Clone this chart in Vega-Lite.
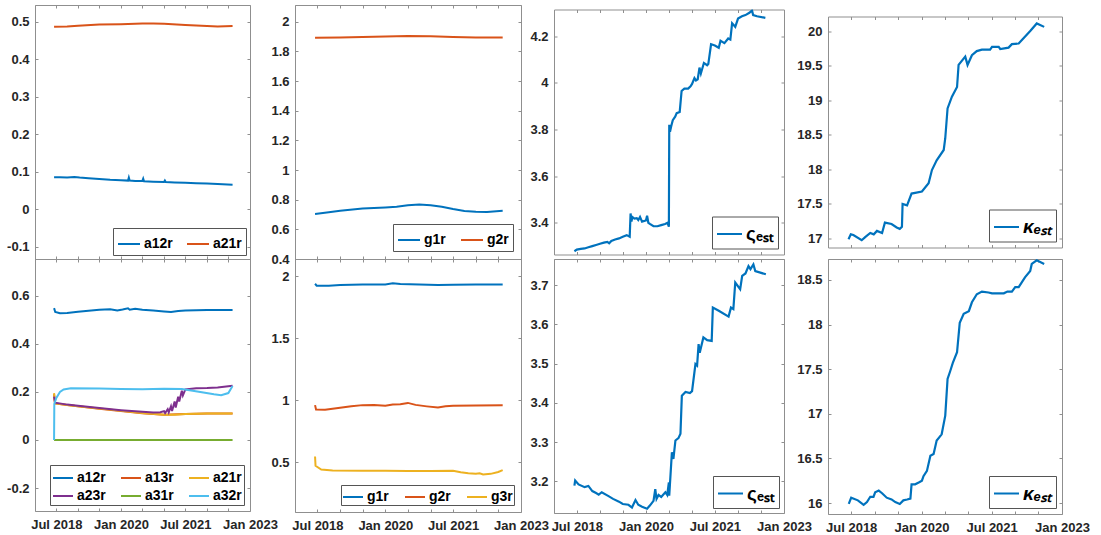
{
"$schema": "https://vega.github.io/schema/vega-lite/v6.json",
"padding": {"left": 6, "top": 4, "right": 5, "bottom": 0},
"background": "white",
"config": {
  "locale": {"number": {"decimal": ".", "thousands": ",", "grouping": [3], "currency": ["$", ""], "minus": "-"}},
  "view": {"stroke": "#8f8f8f", "strokeWidth": 1},
  "axis": {"domain": false, "grid": false, "tickSize": -3, "tickColor": "#8f8f8f", "labelFont": "Liberation Sans", "labelFontSize": 13, "labelFontWeight": "bold", "labelColor": "#262626", "labelPadding": 9, "labelOverlap": false, "labelFlush": false, "labelBound": false},
  "axisX": {"labelPadding": 10.5, "labelExpr": "(utcyear(datum.value)*12 + utcmonth(datum.value) - 24222) % 18 == 0 ? utcFormat(datum.value, '%b %Y') : ''"},
  "legend": {"labelFont": "Liberation Sans", "labelFontWeight": "bold", "labelColor": "#000000", "strokeColor": "#555555", "fillColor": "white", "symbolType": "stroke", "symbolStrokeWidth": 2, "labelFontSize": 14, "labelOffset": 3}
},
"datasets": {
"p1": [
{"t":"2018-06-12","s":"a12r","v":0.085},{"t":"2018-08-01","s":"a12r","v":0.085},{"t":"2018-10-01","s":"a12r","v":0.084},{"t":"2018-12-01","s":"a12r","v":0.0855},{"t":"2019-01-15","s":"a12r","v":0.084},{"t":"2019-04-01","s":"a12r","v":0.082},{"t":"2019-07-01","s":"a12r","v":0.080},{"t":"2019-10-01","s":"a12r","v":0.078},{"t":"2020-01-01","s":"a12r","v":0.077},{"t":"2020-03-01","s":"a12r","v":0.076},{"t":"2020-03-08","s":"a12r","v":0.084},{"t":"2020-03-15","s":"a12r","v":0.076},{"t":"2020-05-01","s":"a12r","v":0.075},{"t":"2020-07-01","s":"a12r","v":0.075},{"t":"2020-07-08","s":"a12r","v":0.081},{"t":"2020-07-15","s":"a12r","v":0.074},{"t":"2020-10-01","s":"a12r","v":0.073},{"t":"2021-01-01","s":"a12r","v":0.072},{"t":"2021-01-08","s":"a12r","v":0.076},{"t":"2021-01-15","s":"a12r","v":0.072},{"t":"2021-04-01","s":"a12r","v":0.071},{"t":"2021-07-01","s":"a12r","v":0.070},{"t":"2021-10-01","s":"a12r","v":0.069},{"t":"2022-01-01","s":"a12r","v":0.068},{"t":"2022-04-01","s":"a12r","v":0.067},{"t":"2022-08-06","s":"a12r","v":0.065},
{"t":"2018-06-12","s":"a21r","v":0.486},{"t":"2018-10-01","s":"a21r","v":0.487},{"t":"2019-01-01","s":"a21r","v":0.489},{"t":"2019-07-01","s":"a21r","v":0.492},{"t":"2020-01-01","s":"a21r","v":0.493},{"t":"2020-07-01","s":"a21r","v":0.495},{"t":"2020-10-01","s":"a21r","v":0.495},{"t":"2021-01-01","s":"a21r","v":0.494},{"t":"2021-07-01","s":"a21r","v":0.491},{"t":"2022-01-01","s":"a21r","v":0.488},{"t":"2022-04-01","s":"a21r","v":0.487},{"t":"2022-08-06","s":"a21r","v":0.488}
],
"p2": [
{"t":"2018-06-12","s":"a12r","v":0.548},{"t":"2018-06-22","s":"a12r","v":0.532},{"t":"2018-08-01","s":"a12r","v":0.527},{"t":"2018-10-01","s":"a12r","v":0.528},{"t":"2019-01-01","s":"a12r","v":0.533},{"t":"2019-04-01","s":"a12r","v":0.537},{"t":"2019-07-01","s":"a12r","v":0.541},{"t":"2019-10-01","s":"a12r","v":0.543},{"t":"2019-12-01","s":"a12r","v":0.538},{"t":"2020-01-15","s":"a12r","v":0.542},{"t":"2020-03-01","s":"a12r","v":0.547},{"t":"2020-03-15","s":"a12r","v":0.541},{"t":"2020-05-01","s":"a12r","v":0.545},{"t":"2020-07-01","s":"a12r","v":0.541},{"t":"2020-10-01","s":"a12r","v":0.538},{"t":"2021-01-01","s":"a12r","v":0.534},{"t":"2021-03-01","s":"a12r","v":0.532},{"t":"2021-05-01","s":"a12r","v":0.536},{"t":"2021-07-01","s":"a12r","v":0.538},{"t":"2021-10-01","s":"a12r","v":0.539},{"t":"2022-01-01","s":"a12r","v":0.540},{"t":"2022-04-01","s":"a12r","v":0.540},{"t":"2022-08-06","s":"a12r","v":0.540},
{"t":"2018-06-12","s":"a13r","v":0.19},{"t":"2018-06-20","s":"a13r","v":0.152},{"t":"2018-10-01","s":"a13r","v":0.145},{"t":"2019-07-01","s":"a13r","v":0.13},{"t":"2020-01-01","s":"a13r","v":0.12},{"t":"2020-07-01","s":"a13r","v":0.111},{"t":"2021-01-01","s":"a13r","v":0.105},{"t":"2021-07-01","s":"a13r","v":0.108},{"t":"2022-01-01","s":"a13r","v":0.11},{"t":"2022-08-06","s":"a13r","v":0.11},
{"t":"2018-06-12","s":"a21r","v":0.195},{"t":"2018-06-20","s":"a21r","v":0.152},{"t":"2018-10-01","s":"a21r","v":0.145},{"t":"2019-01-01","s":"a21r","v":0.14},{"t":"2019-07-01","s":"a21r","v":0.131},{"t":"2019-10-01","s":"a21r","v":0.127},{"t":"2020-01-01","s":"a21r","v":0.121},{"t":"2020-07-01","s":"a21r","v":0.112},{"t":"2021-01-01","s":"a21r","v":0.105},{"t":"2021-04-01","s":"a21r","v":0.105},{"t":"2021-07-01","s":"a21r","v":0.108},{"t":"2022-01-01","s":"a21r","v":0.11},{"t":"2022-08-06","s":"a21r","v":0.11},
{"t":"2018-06-12","s":"a23r","v":0.18},{"t":"2018-06-20","s":"a23r","v":0.155},{"t":"2018-10-01","s":"a23r","v":0.147},{"t":"2019-01-01","s":"a23r","v":0.142},{"t":"2019-07-01","s":"a23r","v":0.133},{"t":"2020-01-01","s":"a23r","v":0.124},{"t":"2020-07-01","s":"a23r","v":0.117},{"t":"2020-10-01","s":"a23r","v":0.114},{"t":"2020-12-01","s":"a23r","v":0.115},{"t":"2021-01-01","s":"a23r","v":0.12},{"t":"2021-01-10","s":"a23r","v":0.112},{"t":"2021-02-01","s":"a23r","v":0.128},{"t":"2021-02-10","s":"a23r","v":0.115},{"t":"2021-03-01","s":"a23r","v":0.14},{"t":"2021-03-10","s":"a23r","v":0.12},{"t":"2021-04-01","s":"a23r","v":0.16},{"t":"2021-04-10","s":"a23r","v":0.135},{"t":"2021-05-01","s":"a23r","v":0.18},{"t":"2021-05-10","s":"a23r","v":0.16},{"t":"2021-06-01","s":"a23r","v":0.205},{"t":"2021-06-10","s":"a23r","v":0.185},{"t":"2021-07-01","s":"a23r","v":0.21},{"t":"2021-10-01","s":"a23r","v":0.215},{"t":"2022-01-01","s":"a23r","v":0.216},{"t":"2022-04-01","s":"a23r","v":0.218},{"t":"2022-08-06","s":"a23r","v":0.225},
{"t":"2018-06-12","s":"a31r","v":0},{"t":"2022-08-06","s":"a31r","v":0},
{"t":"2018-06-12","s":"a32r","v":0},{"t":"2018-06-14","s":"a32r","v":0.15},{"t":"2018-07-01","s":"a32r","v":0.175},{"t":"2018-08-01","s":"a32r","v":0.2},{"t":"2018-09-01","s":"a32r","v":0.21},{"t":"2018-11-01","s":"a32r","v":0.215},{"t":"2019-07-01","s":"a32r","v":0.214},{"t":"2020-01-01","s":"a32r","v":0.212},{"t":"2020-07-01","s":"a32r","v":0.211},{"t":"2021-01-01","s":"a32r","v":0.213},{"t":"2021-06-01","s":"a32r","v":0.212},{"t":"2021-09-01","s":"a32r","v":0.205},{"t":"2021-12-01","s":"a32r","v":0.197},{"t":"2022-03-01","s":"a32r","v":0.19},{"t":"2022-05-01","s":"a32r","v":0.186},{"t":"2022-07-01","s":"a32r","v":0.195},{"t":"2022-08-06","s":"a32r","v":0.224}
],
"p3": [
{"t":"2018-06-12","s":"g1r","v":0.703},{"t":"2018-10-01","s":"g1r","v":0.715},{"t":"2019-01-01","s":"g1r","v":0.725},{"t":"2019-07-01","s":"g1r","v":0.740},{"t":"2020-01-01","s":"g1r","v":0.748},{"t":"2020-04-01","s":"g1r","v":0.752},{"t":"2020-07-01","s":"g1r","v":0.762},{"t":"2020-10-01","s":"g1r","v":0.768},{"t":"2021-01-01","s":"g1r","v":0.763},{"t":"2021-04-01","s":"g1r","v":0.752},{"t":"2021-07-01","s":"g1r","v":0.737},{"t":"2021-10-01","s":"g1r","v":0.724},{"t":"2022-01-01","s":"g1r","v":0.718},{"t":"2022-04-01","s":"g1r","v":0.717},{"t":"2022-08-06","s":"g1r","v":0.725},
{"t":"2018-06-12","s":"g2r","v":1.892},{"t":"2019-01-01","s":"g2r","v":1.894},{"t":"2019-07-01","s":"g2r","v":1.897},{"t":"2020-01-01","s":"g2r","v":1.900},{"t":"2020-07-01","s":"g2r","v":1.904},{"t":"2021-01-01","s":"g2r","v":1.903},{"t":"2021-07-01","s":"g2r","v":1.898},{"t":"2022-01-01","s":"g2r","v":1.893},{"t":"2022-08-06","s":"g2r","v":1.893}
],
"p4": [
{"t":"2018-06-12","s":"g1r","v":1.94},{"t":"2018-06-25","s":"g1r","v":1.925},{"t":"2018-10-01","s":"g1r","v":1.925},{"t":"2019-01-01","s":"g1r","v":1.93},{"t":"2019-07-01","s":"g1r","v":1.935},{"t":"2020-01-01","s":"g1r","v":1.935},{"t":"2020-03-01","s":"g1r","v":1.945},{"t":"2020-05-01","s":"g1r","v":1.938},{"t":"2020-10-01","s":"g1r","v":1.935},{"t":"2021-03-01","s":"g1r","v":1.93},{"t":"2021-07-01","s":"g1r","v":1.933},{"t":"2022-01-01","s":"g1r","v":1.935},{"t":"2022-08-06","s":"g1r","v":1.935},
{"t":"2018-06-12","s":"g2r","v":0.96},{"t":"2018-06-20","s":"g2r","v":0.925},{"t":"2018-09-01","s":"g2r","v":0.922},{"t":"2018-12-01","s":"g2r","v":0.935},{"t":"2019-04-01","s":"g2r","v":0.95},{"t":"2019-07-01","s":"g2r","v":0.96},{"t":"2019-10-01","s":"g2r","v":0.962},{"t":"2020-01-01","s":"g2r","v":0.955},{"t":"2020-03-01","s":"g2r","v":0.965},{"t":"2020-05-01","s":"g2r","v":0.968},{"t":"2020-07-01","s":"g2r","v":0.978},{"t":"2020-09-01","s":"g2r","v":0.962},{"t":"2020-12-01","s":"g2r","v":0.95},{"t":"2021-03-01","s":"g2r","v":0.94},{"t":"2021-05-01","s":"g2r","v":0.95},{"t":"2021-07-01","s":"g2r","v":0.955},{"t":"2022-01-01","s":"g2r","v":0.958},{"t":"2022-08-06","s":"g2r","v":0.96},
{"t":"2018-06-12","s":"g3r","v":0.545},{"t":"2018-06-16","s":"g3r","v":0.47},{"t":"2018-08-01","s":"g3r","v":0.44},{"t":"2018-11-01","s":"g3r","v":0.432},{"t":"2019-07-01","s":"g3r","v":0.43},{"t":"2020-01-01","s":"g3r","v":0.43},{"t":"2020-07-01","s":"g3r","v":0.428},{"t":"2021-01-01","s":"g3r","v":0.428},{"t":"2021-07-01","s":"g3r","v":0.43},{"t":"2021-09-01","s":"g3r","v":0.418},{"t":"2021-11-01","s":"g3r","v":0.41},{"t":"2022-01-01","s":"g3r","v":0.405},{"t":"2022-02-01","s":"g3r","v":0.41},{"t":"2022-03-01","s":"g3r","v":0.40},{"t":"2022-05-01","s":"g3r","v":0.405},{"t":"2022-07-01","s":"g3r","v":0.42},{"t":"2022-08-06","s":"g3r","v":0.435}
],
"p5": [
{"t":"2018-06-12","s":"ςₑₛₜ","v":3.278},{"t":"2018-07-01","s":"ςₑₛₜ","v":3.285},{"t":"2018-08-01","s":"ςₑₛₜ","v":3.288},{"t":"2018-09-01","s":"ςₑₛₜ","v":3.29},{"t":"2018-10-01","s":"ςₑₛₜ","v":3.295},{"t":"2018-11-01","s":"ςₑₛₜ","v":3.30},{"t":"2018-12-01","s":"ςₑₛₜ","v":3.305},{"t":"2019-01-01","s":"ςₑₛₜ","v":3.31},{"t":"2019-02-01","s":"ςₑₛₜ","v":3.315},{"t":"2019-03-01","s":"ςₑₛₜ","v":3.318},{"t":"2019-03-15","s":"ςₑₛₜ","v":3.312},{"t":"2019-04-01","s":"ςₑₛₜ","v":3.322},{"t":"2019-05-01","s":"ςₑₛₜ","v":3.328},{"t":"2019-06-01","s":"ςₑₛₜ","v":3.333},{"t":"2019-07-01","s":"ςₑₛₜ","v":3.34},{"t":"2019-08-01","s":"ςₑₛₜ","v":3.347},{"t":"2019-08-25","s":"ςₑₛₜ","v":3.34},{"t":"2019-09-01","s":"ςₑₛₜ","v":3.44},{"t":"2019-09-08","s":"ςₑₛₜ","v":3.405},{"t":"2019-09-15","s":"ςₑₛₜ","v":3.425},{"t":"2019-10-01","s":"ςₑₛₜ","v":3.418},{"t":"2019-10-20","s":"ςₑₛₜ","v":3.42},{"t":"2019-11-01","s":"ςₑₛₜ","v":3.412},{"t":"2019-11-15","s":"ςₑₛₜ","v":3.425},{"t":"2019-12-01","s":"ςₑₛₜ","v":3.405},{"t":"2020-01-01","s":"ςₑₛₜ","v":3.41},{"t":"2020-01-10","s":"ςₑₛₜ","v":3.43},{"t":"2020-01-20","s":"ςₑₛₜ","v":3.40},{"t":"2020-02-01","s":"ςₑₛₜ","v":3.395},{"t":"2020-03-01","s":"ςₑₛₜ","v":3.385},{"t":"2020-04-01","s":"ςₑₛₜ","v":3.385},{"t":"2020-05-01","s":"ςₑₛₜ","v":3.39},{"t":"2020-06-01","s":"ςₑₛₜ","v":3.395},{"t":"2020-06-20","s":"ςₑₛₜ","v":3.40},{"t":"2020-07-01","s":"ςₑₛₜ","v":3.383},{"t":"2020-07-04","s":"ςₑₛₜ","v":3.82},{"t":"2020-07-10","s":"ςₑₛₜ","v":3.79},{"t":"2020-07-20","s":"ςₑₛₜ","v":3.815},{"t":"2020-08-01","s":"ςₑₛₜ","v":3.84},{"t":"2020-08-20","s":"ςₑₛₜ","v":3.855},{"t":"2020-09-01","s":"ςₑₛₜ","v":3.87},{"t":"2020-09-25","s":"ςₑₛₜ","v":3.875},{"t":"2020-10-10","s":"ςₑₛₜ","v":3.965},{"t":"2020-11-01","s":"ςₑₛₜ","v":3.975},{"t":"2020-12-01","s":"ςₑₛₜ","v":3.975},{"t":"2020-12-20","s":"ςₑₛₜ","v":3.985},{"t":"2021-01-01","s":"ςₑₛₜ","v":3.995},{"t":"2021-01-20","s":"ςₑₛₜ","v":4.02},{"t":"2021-02-01","s":"ςₑₛₜ","v":4.01},{"t":"2021-02-15","s":"ςₑₛₜ","v":4.015},{"t":"2021-03-01","s":"ςₑₛₜ","v":4.065},{"t":"2021-03-12","s":"ςₑₛₜ","v":4.04},{"t":"2021-04-05","s":"ςₑₛₜ","v":4.085},{"t":"2021-05-01","s":"ςₑₛₜ","v":4.075},{"t":"2021-05-10","s":"ςₑₛₜ","v":4.08},{"t":"2021-06-01","s":"ςₑₛₜ","v":4.165},{"t":"2021-07-01","s":"ςₑₛₜ","v":4.16},{"t":"2021-08-01","s":"ςₑₛₜ","v":4.15},{"t":"2021-08-15","s":"ςₑₛₜ","v":4.18},{"t":"2021-09-15","s":"ςₑₛₜ","v":4.17},{"t":"2021-10-15","s":"ςₑₛₜ","v":4.19},{"t":"2021-11-01","s":"ςₑₛₜ","v":4.185},{"t":"2021-11-15","s":"ςₑₛₜ","v":4.255},{"t":"2021-12-10","s":"ςₑₛₜ","v":4.24},{"t":"2022-01-01","s":"ςₑₛₜ","v":4.275},{"t":"2022-02-01","s":"ςₑₛₜ","v":4.285},{"t":"2022-03-01","s":"ςₑₛₜ","v":4.29},{"t":"2022-04-01","s":"ςₑₛₜ","v":4.30},{"t":"2022-04-22","s":"ςₑₛₜ","v":4.31},{"t":"2022-05-01","s":"ςₑₛₜ","v":4.29},{"t":"2022-06-01","s":"ςₑₛₜ","v":4.285},{"t":"2022-08-06","s":"ςₑₛₜ","v":4.278}
],
"p6": [
{"t":"2018-06-12","s":"ςₑₛₜ","v":3.189},{"t":"2018-06-18","s":"ςₑₛₜ","v":3.202},{"t":"2018-07-15","s":"ςₑₛₜ","v":3.192},{"t":"2018-09-01","s":"ςₑₛₜ","v":3.185},{"t":"2018-10-01","s":"ςₑₛₜ","v":3.188},{"t":"2018-11-01","s":"ςₑₛₜ","v":3.175},{"t":"2018-12-01","s":"ςₑₛₜ","v":3.17},{"t":"2018-12-22","s":"ςₑₛₜ","v":3.166},{"t":"2019-01-15","s":"ςₑₛₜ","v":3.172},{"t":"2019-03-10","s":"ςₑₛₜ","v":3.162},{"t":"2019-04-15","s":"ςₑₛₜ","v":3.155},{"t":"2019-06-01","s":"ςₑₛₜ","v":3.148},{"t":"2019-07-01","s":"ςₑₛₜ","v":3.142},{"t":"2019-08-15","s":"ςₑₛₜ","v":3.14},{"t":"2019-09-12","s":"ςₑₛₜ","v":3.133},{"t":"2019-10-10","s":"ςₑₛₜ","v":3.152},{"t":"2019-11-01","s":"ςₑₛₜ","v":3.14},{"t":"2019-12-01","s":"ςₑₛₜ","v":3.135},{"t":"2020-01-10","s":"ςₑₛₜ","v":3.13},{"t":"2020-02-01","s":"ςₑₛₜ","v":3.138},{"t":"2020-03-01","s":"ςₑₛₜ","v":3.15},{"t":"2020-03-15","s":"ςₑₛₜ","v":3.18},{"t":"2020-03-25","s":"ςₑₛₜ","v":3.155},{"t":"2020-04-10","s":"ςₑₛₜ","v":3.165},{"t":"2020-05-01","s":"ςₑₛₜ","v":3.16},{"t":"2020-06-03","s":"ςₑₛₜ","v":3.172},{"t":"2020-06-18","s":"ςₑₛₜ","v":3.165},{"t":"2020-07-01","s":"ςₑₛₜ","v":3.197},{"t":"2020-07-04","s":"ςₑₛₜ","v":3.163},{"t":"2020-07-25","s":"ςₑₛₜ","v":3.274},{"t":"2020-08-06","s":"ςₑₛₜ","v":3.257},{"t":"2020-08-22","s":"ςₑₛₜ","v":3.304},{"t":"2020-09-15","s":"ςₑₛₜ","v":3.31},{"t":"2020-10-01","s":"ςₑₛₜ","v":3.321},{"t":"2020-10-12","s":"ςₑₛₜ","v":3.418},{"t":"2020-11-10","s":"ςₑₛₜ","v":3.428},{"t":"2020-12-15","s":"ςₑₛₜ","v":3.425},{"t":"2021-01-01","s":"ςₑₛₜ","v":3.43},{"t":"2021-01-28","s":"ςₑₛₜ","v":3.499},{"t":"2021-02-10","s":"ςₑₛₜ","v":3.495},{"t":"2021-02-22","s":"ςₑₛₜ","v":3.55},{"t":"2021-03-03","s":"ςₑₛₜ","v":3.528},{"t":"2021-04-01","s":"ςₑₛₜ","v":3.567},{"t":"2021-05-01","s":"ςₑₛₜ","v":3.56},{"t":"2021-06-06","s":"ςₑₛₜ","v":3.558},{"t":"2021-06-15","s":"ςₑₛₜ","v":3.643},{"t":"2021-08-01","s":"ςₑₛₜ","v":3.635},{"t":"2021-10-18","s":"ςₑₛₜ","v":3.62},{"t":"2021-11-06","s":"ςₑₛₜ","v":3.643},{"t":"2021-11-25","s":"ςₑₛₜ","v":3.639},{"t":"2021-12-10","s":"ςₑₛₜ","v":3.707},{"t":"2022-01-18","s":"ςₑₛₜ","v":3.69},{"t":"2022-02-03","s":"ςₑₛₜ","v":3.724},{"t":"2022-03-01","s":"ςₑₛₜ","v":3.73},{"t":"2022-03-25","s":"ςₑₛₜ","v":3.749},{"t":"2022-04-10","s":"ςₑₛₜ","v":3.741},{"t":"2022-05-03","s":"ςₑₛₜ","v":3.753},{"t":"2022-05-18","s":"ςₑₛₜ","v":3.736},{"t":"2022-08-10","s":"ςₑₛₜ","v":3.728}
],
"p7": [
{"t":"2018-06-10","s":"κₑₛₜ","v":16.99},{"t":"2018-06-28","s":"κₑₛₜ","v":17.06},{"t":"2018-07-18","s":"κₑₛₜ","v":17.05},{"t":"2018-09-21","s":"κₑₛₜ","v":16.975},{"t":"2018-10-18","s":"κₑₛₜ","v":17.02},{"t":"2018-11-27","s":"κₑₛₜ","v":17.08},{"t":"2018-12-24","s":"κₑₛₜ","v":17.06},{"t":"2019-01-18","s":"κₑₛₜ","v":17.11},{"t":"2019-02-27","s":"κₑₛₜ","v":17.08},{"t":"2019-03-21","s":"κₑₛₜ","v":17.23},{"t":"2019-05-12","s":"κₑₛₜ","v":17.21},{"t":"2019-06-21","s":"κₑₛₜ","v":17.16},{"t":"2019-07-15","s":"κₑₛₜ","v":17.14},{"t":"2019-08-01","s":"κₑₛₜ","v":17.17},{"t":"2019-08-06","s":"κₑₛₜ","v":17.5},{"t":"2019-09-10","s":"κₑₛₜ","v":17.48},{"t":"2019-10-15","s":"κₑₛₜ","v":17.65},{"t":"2020-01-04","s":"κₑₛₜ","v":17.68},{"t":"2020-02-25","s":"κₑₛₜ","v":17.8},{"t":"2020-03-22","s":"κₑₛₜ","v":17.99},{"t":"2020-04-28","s":"κₑₛₜ","v":18.13},{"t":"2020-06-22","s":"κₑₛₜ","v":18.28},{"t":"2020-07-04","s":"κₑₛₜ","v":18.45},{"t":"2020-07-22","s":"κₑₛₜ","v":18.88},{"t":"2020-08-25","s":"κₑₛₜ","v":19.05},{"t":"2020-10-04","s":"κₑₛₜ","v":19.19},{"t":"2020-10-16","s":"κₑₛₜ","v":19.51},{"t":"2020-12-07","s":"κₑₛₜ","v":19.63},{"t":"2020-12-25","s":"κₑₛₜ","v":19.51},{"t":"2021-01-28","s":"κₑₛₜ","v":19.65},{"t":"2021-03-07","s":"κₑₛₜ","v":19.71},{"t":"2021-04-16","s":"κₑₛₜ","v":19.73},{"t":"2021-06-19","s":"κₑₛₜ","v":19.73},{"t":"2021-07-04","s":"κₑₛₜ","v":19.77},{"t":"2021-08-25","s":"κₑₛₜ","v":19.77},{"t":"2021-09-06","s":"κₑₛₜ","v":19.74},{"t":"2021-11-10","s":"κₑₛₜ","v":19.76},{"t":"2021-12-06","s":"κₑₛₜ","v":19.81},{"t":"2022-01-28","s":"κₑₛₜ","v":19.82},{"t":"2022-02-22","s":"κₑₛₜ","v":19.87},{"t":"2022-04-28","s":"κₑₛₜ","v":20.0},{"t":"2022-06-18","s":"κₑₛₜ","v":20.11},{"t":"2022-08-15","s":"κₑₛₜ","v":20.06}
],
"p8": [
{"t":"2018-06-12","s":"κₑₛₜ","v":15.99},{"t":"2018-07-01","s":"κₑₛₜ","v":16.06},{"t":"2018-08-22","s":"κₑₛₜ","v":16.03},{"t":"2018-10-06","s":"κₑₛₜ","v":15.98},{"t":"2018-11-01","s":"κₑₛₜ","v":16.01},{"t":"2018-11-27","s":"κₑₛₜ","v":16.07},{"t":"2018-12-22","s":"κₑₛₜ","v":16.07},{"t":"2019-01-04","s":"κₑₛₜ","v":16.12},{"t":"2019-02-01","s":"κₑₛₜ","v":16.14},{"t":"2019-02-27","s":"κₑₛₜ","v":16.11},{"t":"2019-04-04","s":"κₑₛₜ","v":16.06},{"t":"2019-05-12","s":"κₑₛₜ","v":16.04},{"t":"2019-06-10","s":"κₑₛₜ","v":16.01},{"t":"2019-07-15","s":"κₑₛₜ","v":15.99},{"t":"2019-08-12","s":"κₑₛₜ","v":16.03},{"t":"2019-09-10","s":"κₑₛₜ","v":16.04},{"t":"2019-10-06","s":"κₑₛₜ","v":16.05},{"t":"2019-10-15","s":"κₑₛₜ","v":16.21},{"t":"2019-11-12","s":"κₑₛₜ","v":16.21},{"t":"2019-12-10","s":"κₑₛₜ","v":16.23},{"t":"2020-01-04","s":"κₑₛₜ","v":16.25},{"t":"2020-01-16","s":"κₑₛₜ","v":16.3},{"t":"2020-02-12","s":"κₑₛₜ","v":16.36},{"t":"2020-03-10","s":"κₑₛₜ","v":16.53},{"t":"2020-04-04","s":"κₑₛₜ","v":16.55},{"t":"2020-04-28","s":"κₑₛₜ","v":16.7},{"t":"2020-06-06","s":"κₑₛₜ","v":16.77},{"t":"2020-07-04","s":"κₑₛₜ","v":16.98},{"t":"2020-07-22","s":"κₑₛₜ","v":17.39},{"t":"2020-08-12","s":"κₑₛₜ","v":17.48},{"t":"2020-09-01","s":"κₑₛₜ","v":17.57},{"t":"2020-10-04","s":"κₑₛₜ","v":17.69},{"t":"2020-10-25","s":"κₑₛₜ","v":18.02},{"t":"2020-11-25","s":"κₑₛₜ","v":18.12},{"t":"2021-01-04","s":"κₑₛₜ","v":18.15},{"t":"2021-01-28","s":"κₑₛₜ","v":18.25},{"t":"2021-03-07","s":"κₑₛₜ","v":18.34},{"t":"2021-04-16","s":"κₑₛₜ","v":18.37},{"t":"2021-06-06","s":"κₑₛₜ","v":18.36},{"t":"2021-07-04","s":"κₑₛₜ","v":18.35},{"t":"2021-10-04","s":"κₑₛₜ","v":18.35},{"t":"2021-11-01","s":"κₑₛₜ","v":18.37},{"t":"2021-12-06","s":"κₑₛₜ","v":18.37},{"t":"2022-01-01","s":"κₑₛₜ","v":18.42},{"t":"2022-01-28","s":"κₑₛₜ","v":18.42},{"t":"2022-03-18","s":"κₑₛₜ","v":18.53},{"t":"2022-04-28","s":"κₑₛₜ","v":18.6},{"t":"2022-05-10","s":"κₑₛₜ","v":18.68},{"t":"2022-06-18","s":"κₑₛₜ","v":18.72},{"t":"2022-08-15","s":"κₑₛₜ","v":18.68}
]
},
"columns": 7,
"spacing": 0,
"bounds": "flush",
"align": "each",
"center": true,
"resolve": {"scale": {"color": "independent"}},
"concat": [
  {"width": 215, "height": 254, "data": {"name": "p1"},
   "layer": [
    {"mark": {"type": "line", "strokeWidth": 2, "clip": true},
     "encoding": {
      "x": {"field": "t", "type": "temporal", "scale": {"type": "utc", "domain": [{"year":2018,"month":1,"date":1,"utc":true},{"year":2023,"month":1,"date":1,"utc":true}]}, "axis": {"orient": "bottom", "title": null, "labels": false, "values": [{"year":2018,"month":1,"date":1,"utc":true},{"year":2018,"month":7,"date":1,"utc":true},{"year":2019,"month":1,"date":1,"utc":true},{"year":2019,"month":7,"date":1,"utc":true},{"year":2020,"month":1,"date":1,"utc":true},{"year":2020,"month":7,"date":1,"utc":true},{"year":2021,"month":1,"date":1,"utc":true},{"year":2021,"month":7,"date":1,"utc":true},{"year":2022,"month":1,"date":1,"utc":true},{"year":2022,"month":7,"date":1,"utc":true},{"year":2023,"month":1,"date":1,"utc":true}]}},
      "y": {"field": "v", "type": "quantitative", "scale": {"domain": [-0.133, 0.544]}, "axis": {"orient": "left", "title": null, "format": "~g", "values": [-0.1, 0, 0.1, 0.2, 0.3, 0.4, 0.5]}},
      "color": {"field": "s", "type": "nominal", "scale": {"domain": ["a12r", "a21r"], "range": ["#0072BD", "#D95319"]}, "legend": {"title": null, "orient": "bottom-right", "direction": "horizontal", "offset": 4, "symbolSize": 484, "padding": 4, "columnPadding": 10}}
     }},
    {"mark": {"type": "line", "opacity": 0},
     "encoding": {
      "x": {"field": "t", "type": "temporal", "scale": {"type": "utc", "domain": [{"year":2018,"month":1,"date":1,"utc":true},{"year":2023,"month":1,"date":1,"utc":true}]}, "axis": {"orient": "top", "title": null, "labels": false, "values": [{"year":2018,"month":1,"date":1,"utc":true},{"year":2018,"month":7,"date":1,"utc":true},{"year":2019,"month":1,"date":1,"utc":true},{"year":2019,"month":7,"date":1,"utc":true},{"year":2020,"month":1,"date":1,"utc":true},{"year":2020,"month":7,"date":1,"utc":true},{"year":2021,"month":1,"date":1,"utc":true},{"year":2021,"month":7,"date":1,"utc":true},{"year":2022,"month":1,"date":1,"utc":true},{"year":2022,"month":7,"date":1,"utc":true},{"year":2023,"month":1,"date":1,"utc":true}]}},
      "y": {"field": "v", "type": "quantitative", "scale": {"domain": [-0.133, 0.544]}, "axis": {"orient": "right", "title": null, "labels": false, "values": [-0.1, 0, 0.1, 0.2, 0.3, 0.4, 0.5]}}
     }}
   ],
   "resolve": {"axis": {"x": "independent", "y": "independent"}}
  },
  {"width": 45, "height": 1, "data": {"values": []}, "mark": "point", "view": {"stroke": null}},
  {"width": 226, "height": 254, "data": {"name": "p3"},
   "layer": [
    {"mark": {"type": "line", "strokeWidth": 2, "clip": true},
     "encoding": {
      "x": {"field": "t", "type": "temporal", "scale": {"type": "utc", "domain": [{"year":2018,"month":1,"date":1,"utc":true},{"year":2023,"month":1,"date":1,"utc":true}]}, "axis": {"orient": "bottom", "title": null, "labels": false, "values": [{"year":2018,"month":1,"date":1,"utc":true},{"year":2018,"month":7,"date":1,"utc":true},{"year":2019,"month":1,"date":1,"utc":true},{"year":2019,"month":7,"date":1,"utc":true},{"year":2020,"month":1,"date":1,"utc":true},{"year":2020,"month":7,"date":1,"utc":true},{"year":2021,"month":1,"date":1,"utc":true},{"year":2021,"month":7,"date":1,"utc":true},{"year":2022,"month":1,"date":1,"utc":true},{"year":2022,"month":7,"date":1,"utc":true},{"year":2023,"month":1,"date":1,"utc":true}]}},
      "y": {"field": "v", "type": "quantitative", "scale": {"domain": [0.4, 2.113]}, "axis": {"orient": "left", "title": null, "format": "~g", "values": [0.4, 0.6, 0.8, 1, 1.2, 1.4, 1.6, 1.8, 2]}},
      "color": {"field": "s", "type": "nominal", "scale": {"domain": ["g1r", "g2r"], "range": ["#0072BD", "#D95319"]}, "legend": {"title": null, "orient": "bottom-right", "direction": "horizontal", "offset": 8, "symbolSize": 484, "padding": 4, "columnPadding": 11}}
     }},
    {"mark": {"type": "line", "opacity": 0},
     "encoding": {
      "x": {"field": "t", "type": "temporal", "scale": {"type": "utc", "domain": [{"year":2018,"month":1,"date":1,"utc":true},{"year":2023,"month":1,"date":1,"utc":true}]}, "axis": {"orient": "top", "title": null, "labels": false, "values": [{"year":2018,"month":1,"date":1,"utc":true},{"year":2018,"month":7,"date":1,"utc":true},{"year":2019,"month":1,"date":1,"utc":true},{"year":2019,"month":7,"date":1,"utc":true},{"year":2020,"month":1,"date":1,"utc":true},{"year":2020,"month":7,"date":1,"utc":true},{"year":2021,"month":1,"date":1,"utc":true},{"year":2021,"month":7,"date":1,"utc":true},{"year":2022,"month":1,"date":1,"utc":true},{"year":2022,"month":7,"date":1,"utc":true},{"year":2023,"month":1,"date":1,"utc":true}]}},
      "y": {"field": "v", "type": "quantitative", "scale": {"domain": [0.4, 2.113]}, "axis": {"orient": "right", "title": null, "labels": false, "values": [0.4, 0.6, 0.8, 1, 1.2, 1.4, 1.6, 1.8, 2]}}
     }}
   ],
   "resolve": {"axis": {"x": "independent", "y": "independent"}}
  },
  {"width": 33, "height": 1, "data": {"values": []}, "mark": "point", "view": {"stroke": null}},
  {"width": 230, "height": 245, "data": {"name": "p5"},
   "layer": [
    {"mark": {"type": "line", "strokeWidth": 2.2, "clip": true},
     "encoding": {
      "x": {"field": "t", "type": "temporal", "scale": {"type": "utc", "domain": [{"year":2018,"month":1,"date":1,"utc":true},{"year":2023,"month":1,"date":1,"utc":true}]}, "axis": {"orient": "bottom", "title": null, "labels": false, "values": [{"year":2018,"month":1,"date":1,"utc":true},{"year":2018,"month":7,"date":1,"utc":true},{"year":2019,"month":1,"date":1,"utc":true},{"year":2019,"month":7,"date":1,"utc":true},{"year":2020,"month":1,"date":1,"utc":true},{"year":2020,"month":7,"date":1,"utc":true},{"year":2021,"month":1,"date":1,"utc":true},{"year":2021,"month":7,"date":1,"utc":true},{"year":2022,"month":1,"date":1,"utc":true},{"year":2022,"month":7,"date":1,"utc":true},{"year":2023,"month":1,"date":1,"utc":true}]}},
      "y": {"field": "v", "type": "quantitative", "scale": {"domain": [3.264, 4.314]}, "axis": {"orient": "left", "title": null, "format": "~g", "values": [3.4, 3.6, 3.8, 4, 4.2]}},
      "color": {"field": "s", "type": "nominal", "scale": {"domain": ["ςₑₛₜ"], "range": ["#0072BD"]}, "legend": {"title": null, "orient": "bottom-right", "offset": 6, "symbolSize": 625, "padding": 4, "labelFontSize": 19}}
     }},
    {"mark": {"type": "line", "opacity": 0},
     "encoding": {
      "x": {"field": "t", "type": "temporal", "scale": {"type": "utc", "domain": [{"year":2018,"month":1,"date":1,"utc":true},{"year":2023,"month":1,"date":1,"utc":true}]}, "axis": {"orient": "top", "title": null, "labels": false, "values": [{"year":2018,"month":1,"date":1,"utc":true},{"year":2018,"month":7,"date":1,"utc":true},{"year":2019,"month":1,"date":1,"utc":true},{"year":2019,"month":7,"date":1,"utc":true},{"year":2020,"month":1,"date":1,"utc":true},{"year":2020,"month":7,"date":1,"utc":true},{"year":2021,"month":1,"date":1,"utc":true},{"year":2021,"month":7,"date":1,"utc":true},{"year":2022,"month":1,"date":1,"utc":true},{"year":2022,"month":7,"date":1,"utc":true},{"year":2023,"month":1,"date":1,"utc":true}]}},
      "y": {"field": "v", "type": "quantitative", "scale": {"domain": [3.264, 4.314]}, "axis": {"orient": "right", "title": null, "labels": false, "values": [3.4, 3.6, 3.8, 4, 4.2]}}
     }}
   ],
   "resolve": {"axis": {"x": "independent", "y": "independent"}}
  },
  {"width": 44, "height": 1, "data": {"values": []}, "mark": "point", "view": {"stroke": null}},
  {"width": 234, "height": 231, "data": {"name": "p7"},
   "layer": [
    {"mark": {"type": "line", "strokeWidth": 2.2, "clip": true},
     "encoding": {
      "x": {"field": "t", "type": "temporal", "scale": {"type": "utc", "domain": [{"year":2018,"month":1,"date":1,"utc":true},{"year":2023,"month":1,"date":1,"utc":true}]}, "axis": {"orient": "bottom", "title": null, "labels": false, "values": [{"year":2018,"month":1,"date":1,"utc":true},{"year":2018,"month":7,"date":1,"utc":true},{"year":2019,"month":1,"date":1,"utc":true},{"year":2019,"month":7,"date":1,"utc":true},{"year":2020,"month":1,"date":1,"utc":true},{"year":2020,"month":7,"date":1,"utc":true},{"year":2021,"month":1,"date":1,"utc":true},{"year":2021,"month":7,"date":1,"utc":true},{"year":2022,"month":1,"date":1,"utc":true},{"year":2022,"month":7,"date":1,"utc":true},{"year":2023,"month":1,"date":1,"utc":true}]}},
      "y": {"field": "v", "type": "quantitative", "scale": {"domain": [16.87, 20.21]}, "axis": {"orient": "left", "title": null, "format": "~g", "values": [17, 17.5, 18, 18.5, 19, 19.5, 20]}},
      "color": {"field": "s", "type": "nominal", "scale": {"domain": ["κₑₛₜ"], "range": ["#0072BD"]}, "legend": {"title": null, "orient": "bottom-right", "offset": 6, "symbolSize": 625, "padding": 4, "labelFontSize": 19, "labelFontStyle": "italic"}}
     }},
    {"mark": {"type": "line", "opacity": 0},
     "encoding": {
      "x": {"field": "t", "type": "temporal", "scale": {"type": "utc", "domain": [{"year":2018,"month":1,"date":1,"utc":true},{"year":2023,"month":1,"date":1,"utc":true}]}, "axis": {"orient": "top", "title": null, "labels": false, "values": [{"year":2018,"month":1,"date":1,"utc":true},{"year":2018,"month":7,"date":1,"utc":true},{"year":2019,"month":1,"date":1,"utc":true},{"year":2019,"month":7,"date":1,"utc":true},{"year":2020,"month":1,"date":1,"utc":true},{"year":2020,"month":7,"date":1,"utc":true},{"year":2021,"month":1,"date":1,"utc":true},{"year":2021,"month":7,"date":1,"utc":true},{"year":2022,"month":1,"date":1,"utc":true},{"year":2022,"month":7,"date":1,"utc":true},{"year":2023,"month":1,"date":1,"utc":true}]}},
      "y": {"field": "v", "type": "quantitative", "scale": {"domain": [16.87, 20.21]}, "axis": {"orient": "right", "title": null, "labels": false, "values": [17, 17.5, 18, 18.5, 19, 19.5, 20]}}
     }}
   ],
   "resolve": {"axis": {"x": "independent", "y": "independent"}}
  },
  {"width": 215, "height": 252, "data": {"name": "p2"},
   "layer": [
    {"mark": {"type": "line", "strokeWidth": 2, "clip": true},
     "encoding": {
      "x": {"field": "t", "type": "temporal", "scale": {"type": "utc", "domain": [{"year":2018,"month":1,"date":1,"utc":true},{"year":2023,"month":1,"date":1,"utc":true}]}, "axis": {"orient": "bottom", "title": null, "values": [{"year":2018,"month":1,"date":1,"utc":true},{"year":2018,"month":7,"date":1,"utc":true},{"year":2019,"month":1,"date":1,"utc":true},{"year":2019,"month":7,"date":1,"utc":true},{"year":2020,"month":1,"date":1,"utc":true},{"year":2020,"month":7,"date":1,"utc":true},{"year":2021,"month":1,"date":1,"utc":true},{"year":2021,"month":7,"date":1,"utc":true},{"year":2022,"month":1,"date":1,"utc":true},{"year":2022,"month":7,"date":1,"utc":true},{"year":2023,"month":1,"date":1,"utc":true}]}},
      "y": {"field": "v", "type": "quantitative", "scale": {"domain": [-0.295, 0.752]}, "axis": {"orient": "left", "title": null, "format": "~g", "values": [-0.2, 0, 0.2, 0.4, 0.6]}},
      "color": {"field": "s", "type": "nominal", "scale": {"domain": ["a12r", "a13r", "a21r", "a23r", "a31r", "a32r"], "range": ["#0072BD", "#D95319", "#EDB120", "#7E2F8E", "#77AC30", "#4DBEEE"]}, "legend": {"title": null, "orient": "bottom-right", "direction": "horizontal", "columns": 3, "offset": 6, "symbolSize": 400, "padding": 2, "columnPadding": 11, "rowPadding": 0}}
     }},
    {"mark": {"type": "line", "opacity": 0},
     "encoding": {
      "x": {"field": "t", "type": "temporal", "scale": {"type": "utc", "domain": [{"year":2018,"month":1,"date":1,"utc":true},{"year":2023,"month":1,"date":1,"utc":true}]}, "axis": {"orient": "top", "title": null, "labels": false, "values": [{"year":2018,"month":1,"date":1,"utc":true},{"year":2018,"month":7,"date":1,"utc":true},{"year":2019,"month":1,"date":1,"utc":true},{"year":2019,"month":7,"date":1,"utc":true},{"year":2020,"month":1,"date":1,"utc":true},{"year":2020,"month":7,"date":1,"utc":true},{"year":2021,"month":1,"date":1,"utc":true},{"year":2021,"month":7,"date":1,"utc":true},{"year":2022,"month":1,"date":1,"utc":true},{"year":2022,"month":7,"date":1,"utc":true},{"year":2023,"month":1,"date":1,"utc":true}]}},
      "y": {"field": "v", "type": "quantitative", "scale": {"domain": [-0.295, 0.752]}, "axis": {"orient": "right", "title": null, "labels": false, "values": [-0.2, 0, 0.2, 0.4, 0.6]}}
     }}
   ],
   "resolve": {"axis": {"x": "independent", "y": "independent"}}
  },
  {"width": 45, "height": 1, "data": {"values": []}, "mark": "point", "view": {"stroke": null}},
  {"width": 226, "height": 253, "data": {"name": "p4"},
   "layer": [
    {"mark": {"type": "line", "strokeWidth": 2, "clip": true},
     "encoding": {
      "x": {"field": "t", "type": "temporal", "scale": {"type": "utc", "domain": [{"year":2018,"month":1,"date":1,"utc":true},{"year":2023,"month":1,"date":1,"utc":true}]}, "axis": {"orient": "bottom", "title": null, "values": [{"year":2018,"month":1,"date":1,"utc":true},{"year":2018,"month":7,"date":1,"utc":true},{"year":2019,"month":1,"date":1,"utc":true},{"year":2019,"month":7,"date":1,"utc":true},{"year":2020,"month":1,"date":1,"utc":true},{"year":2020,"month":7,"date":1,"utc":true},{"year":2021,"month":1,"date":1,"utc":true},{"year":2021,"month":7,"date":1,"utc":true},{"year":2022,"month":1,"date":1,"utc":true},{"year":2022,"month":7,"date":1,"utc":true},{"year":2023,"month":1,"date":1,"utc":true}]}},
      "y": {"field": "v", "type": "quantitative", "scale": {"domain": [0.097, 2.14]}, "axis": {"orient": "left", "title": null, "format": "~g", "values": [0.5, 1, 1.5, 2]}},
      "color": {"field": "s", "type": "nominal", "scale": {"domain": ["g1r", "g2r", "g3r"], "range": ["#0072BD", "#D95319", "#EDB120"]}, "legend": {"title": null, "orient": "bottom-right", "direction": "horizontal", "offset": 7, "symbolSize": 400, "padding": 1, "columnPadding": 12}}
     }},
    {"mark": {"type": "line", "opacity": 0},
     "encoding": {
      "x": {"field": "t", "type": "temporal", "scale": {"type": "utc", "domain": [{"year":2018,"month":1,"date":1,"utc":true},{"year":2023,"month":1,"date":1,"utc":true}]}, "axis": {"orient": "top", "title": null, "labels": false, "values": [{"year":2018,"month":1,"date":1,"utc":true},{"year":2018,"month":7,"date":1,"utc":true},{"year":2019,"month":1,"date":1,"utc":true},{"year":2019,"month":7,"date":1,"utc":true},{"year":2020,"month":1,"date":1,"utc":true},{"year":2020,"month":7,"date":1,"utc":true},{"year":2021,"month":1,"date":1,"utc":true},{"year":2021,"month":7,"date":1,"utc":true},{"year":2022,"month":1,"date":1,"utc":true},{"year":2022,"month":7,"date":1,"utc":true},{"year":2023,"month":1,"date":1,"utc":true}]}},
      "y": {"field": "v", "type": "quantitative", "scale": {"domain": [0.097, 2.14]}, "axis": {"orient": "right", "title": null, "labels": false, "values": [0.5, 1, 1.5, 2]}}
     }}
   ],
   "resolve": {"axis": {"x": "independent", "y": "independent"}}
  },
  {"width": 33, "height": 1, "data": {"values": []}, "mark": "point", "view": {"stroke": null}},
  {"width": 230, "height": 254, "data": {"name": "p6"},
   "layer": [
    {"mark": {"type": "line", "strokeWidth": 2.2, "clip": true},
     "encoding": {
      "x": {"field": "t", "type": "temporal", "scale": {"type": "utc", "domain": [{"year":2018,"month":1,"date":1,"utc":true},{"year":2023,"month":1,"date":1,"utc":true}]}, "axis": {"orient": "bottom", "title": null, "values": [{"year":2018,"month":1,"date":1,"utc":true},{"year":2018,"month":7,"date":1,"utc":true},{"year":2019,"month":1,"date":1,"utc":true},{"year":2019,"month":7,"date":1,"utc":true},{"year":2020,"month":1,"date":1,"utc":true},{"year":2020,"month":7,"date":1,"utc":true},{"year":2021,"month":1,"date":1,"utc":true},{"year":2021,"month":7,"date":1,"utc":true},{"year":2022,"month":1,"date":1,"utc":true},{"year":2022,"month":7,"date":1,"utc":true},{"year":2023,"month":1,"date":1,"utc":true}]}},
      "y": {"field": "v", "type": "quantitative", "scale": {"domain": [3.119, 3.767]}, "axis": {"orient": "left", "title": null, "format": "~g", "values": [3.2, 3.3, 3.4, 3.5, 3.6, 3.7]}},
      "color": {"field": "s", "type": "nominal", "scale": {"domain": ["ςₑₛₜ"], "range": ["#0072BD"]}, "legend": {"title": null, "orient": "bottom-right", "offset": 5, "symbolSize": 625, "padding": 4, "labelFontSize": 19}}
     }},
    {"mark": {"type": "line", "opacity": 0},
     "encoding": {
      "x": {"field": "t", "type": "temporal", "scale": {"type": "utc", "domain": [{"year":2018,"month":1,"date":1,"utc":true},{"year":2023,"month":1,"date":1,"utc":true}]}, "axis": {"orient": "top", "title": null, "labels": false, "values": [{"year":2018,"month":1,"date":1,"utc":true},{"year":2018,"month":7,"date":1,"utc":true},{"year":2019,"month":1,"date":1,"utc":true},{"year":2019,"month":7,"date":1,"utc":true},{"year":2020,"month":1,"date":1,"utc":true},{"year":2020,"month":7,"date":1,"utc":true},{"year":2021,"month":1,"date":1,"utc":true},{"year":2021,"month":7,"date":1,"utc":true},{"year":2022,"month":1,"date":1,"utc":true},{"year":2022,"month":7,"date":1,"utc":true},{"year":2023,"month":1,"date":1,"utc":true}]}},
      "y": {"field": "v", "type": "quantitative", "scale": {"domain": [3.119, 3.767]}, "axis": {"orient": "right", "title": null, "labels": false, "values": [3.2, 3.3, 3.4, 3.5, 3.6, 3.7]}}
     }}
   ],
   "resolve": {"axis": {"x": "independent", "y": "independent"}}
  },
  {"width": 44, "height": 1, "data": {"values": []}, "mark": "point", "view": {"stroke": null}},
  {"width": 234, "height": 255, "data": {"name": "p8"},
   "layer": [
    {"mark": {"type": "line", "strokeWidth": 2.2, "clip": true},
     "encoding": {
      "x": {"field": "t", "type": "temporal", "scale": {"type": "utc", "domain": [{"year":2018,"month":1,"date":1,"utc":true},{"year":2023,"month":1,"date":1,"utc":true}]}, "axis": {"orient": "bottom", "title": null, "values": [{"year":2018,"month":1,"date":1,"utc":true},{"year":2018,"month":7,"date":1,"utc":true},{"year":2019,"month":1,"date":1,"utc":true},{"year":2019,"month":7,"date":1,"utc":true},{"year":2020,"month":1,"date":1,"utc":true},{"year":2020,"month":7,"date":1,"utc":true},{"year":2021,"month":1,"date":1,"utc":true},{"year":2021,"month":7,"date":1,"utc":true},{"year":2022,"month":1,"date":1,"utc":true},{"year":2022,"month":7,"date":1,"utc":true},{"year":2023,"month":1,"date":1,"utc":true}]}},
      "y": {"field": "v", "type": "quantitative", "scale": {"domain": [15.877, 18.735]}, "axis": {"orient": "left", "title": null, "format": "~g", "values": [16, 16.5, 17, 17.5, 18, 18.5]}},
      "color": {"field": "s", "type": "nominal", "scale": {"domain": ["κₑₛₜ"], "range": ["#0072BD"]}, "legend": {"title": null, "orient": "bottom-right", "offset": 6, "symbolSize": 625, "padding": 4, "labelFontSize": 19, "labelFontStyle": "italic"}}
     }},
    {"mark": {"type": "line", "opacity": 0},
     "encoding": {
      "x": {"field": "t", "type": "temporal", "scale": {"type": "utc", "domain": [{"year":2018,"month":1,"date":1,"utc":true},{"year":2023,"month":1,"date":1,"utc":true}]}, "axis": {"orient": "top", "title": null, "labels": false, "values": [{"year":2018,"month":1,"date":1,"utc":true},{"year":2018,"month":7,"date":1,"utc":true},{"year":2019,"month":1,"date":1,"utc":true},{"year":2019,"month":7,"date":1,"utc":true},{"year":2020,"month":1,"date":1,"utc":true},{"year":2020,"month":7,"date":1,"utc":true},{"year":2021,"month":1,"date":1,"utc":true},{"year":2021,"month":7,"date":1,"utc":true},{"year":2022,"month":1,"date":1,"utc":true},{"year":2022,"month":7,"date":1,"utc":true},{"year":2023,"month":1,"date":1,"utc":true}]}},
      "y": {"field": "v", "type": "quantitative", "scale": {"domain": [15.877, 18.735]}, "axis": {"orient": "right", "title": null, "labels": false, "values": [16, 16.5, 17, 17.5, 18, 18.5]}}
     }}
   ],
   "resolve": {"axis": {"x": "independent", "y": "independent"}}
  }
]
}
